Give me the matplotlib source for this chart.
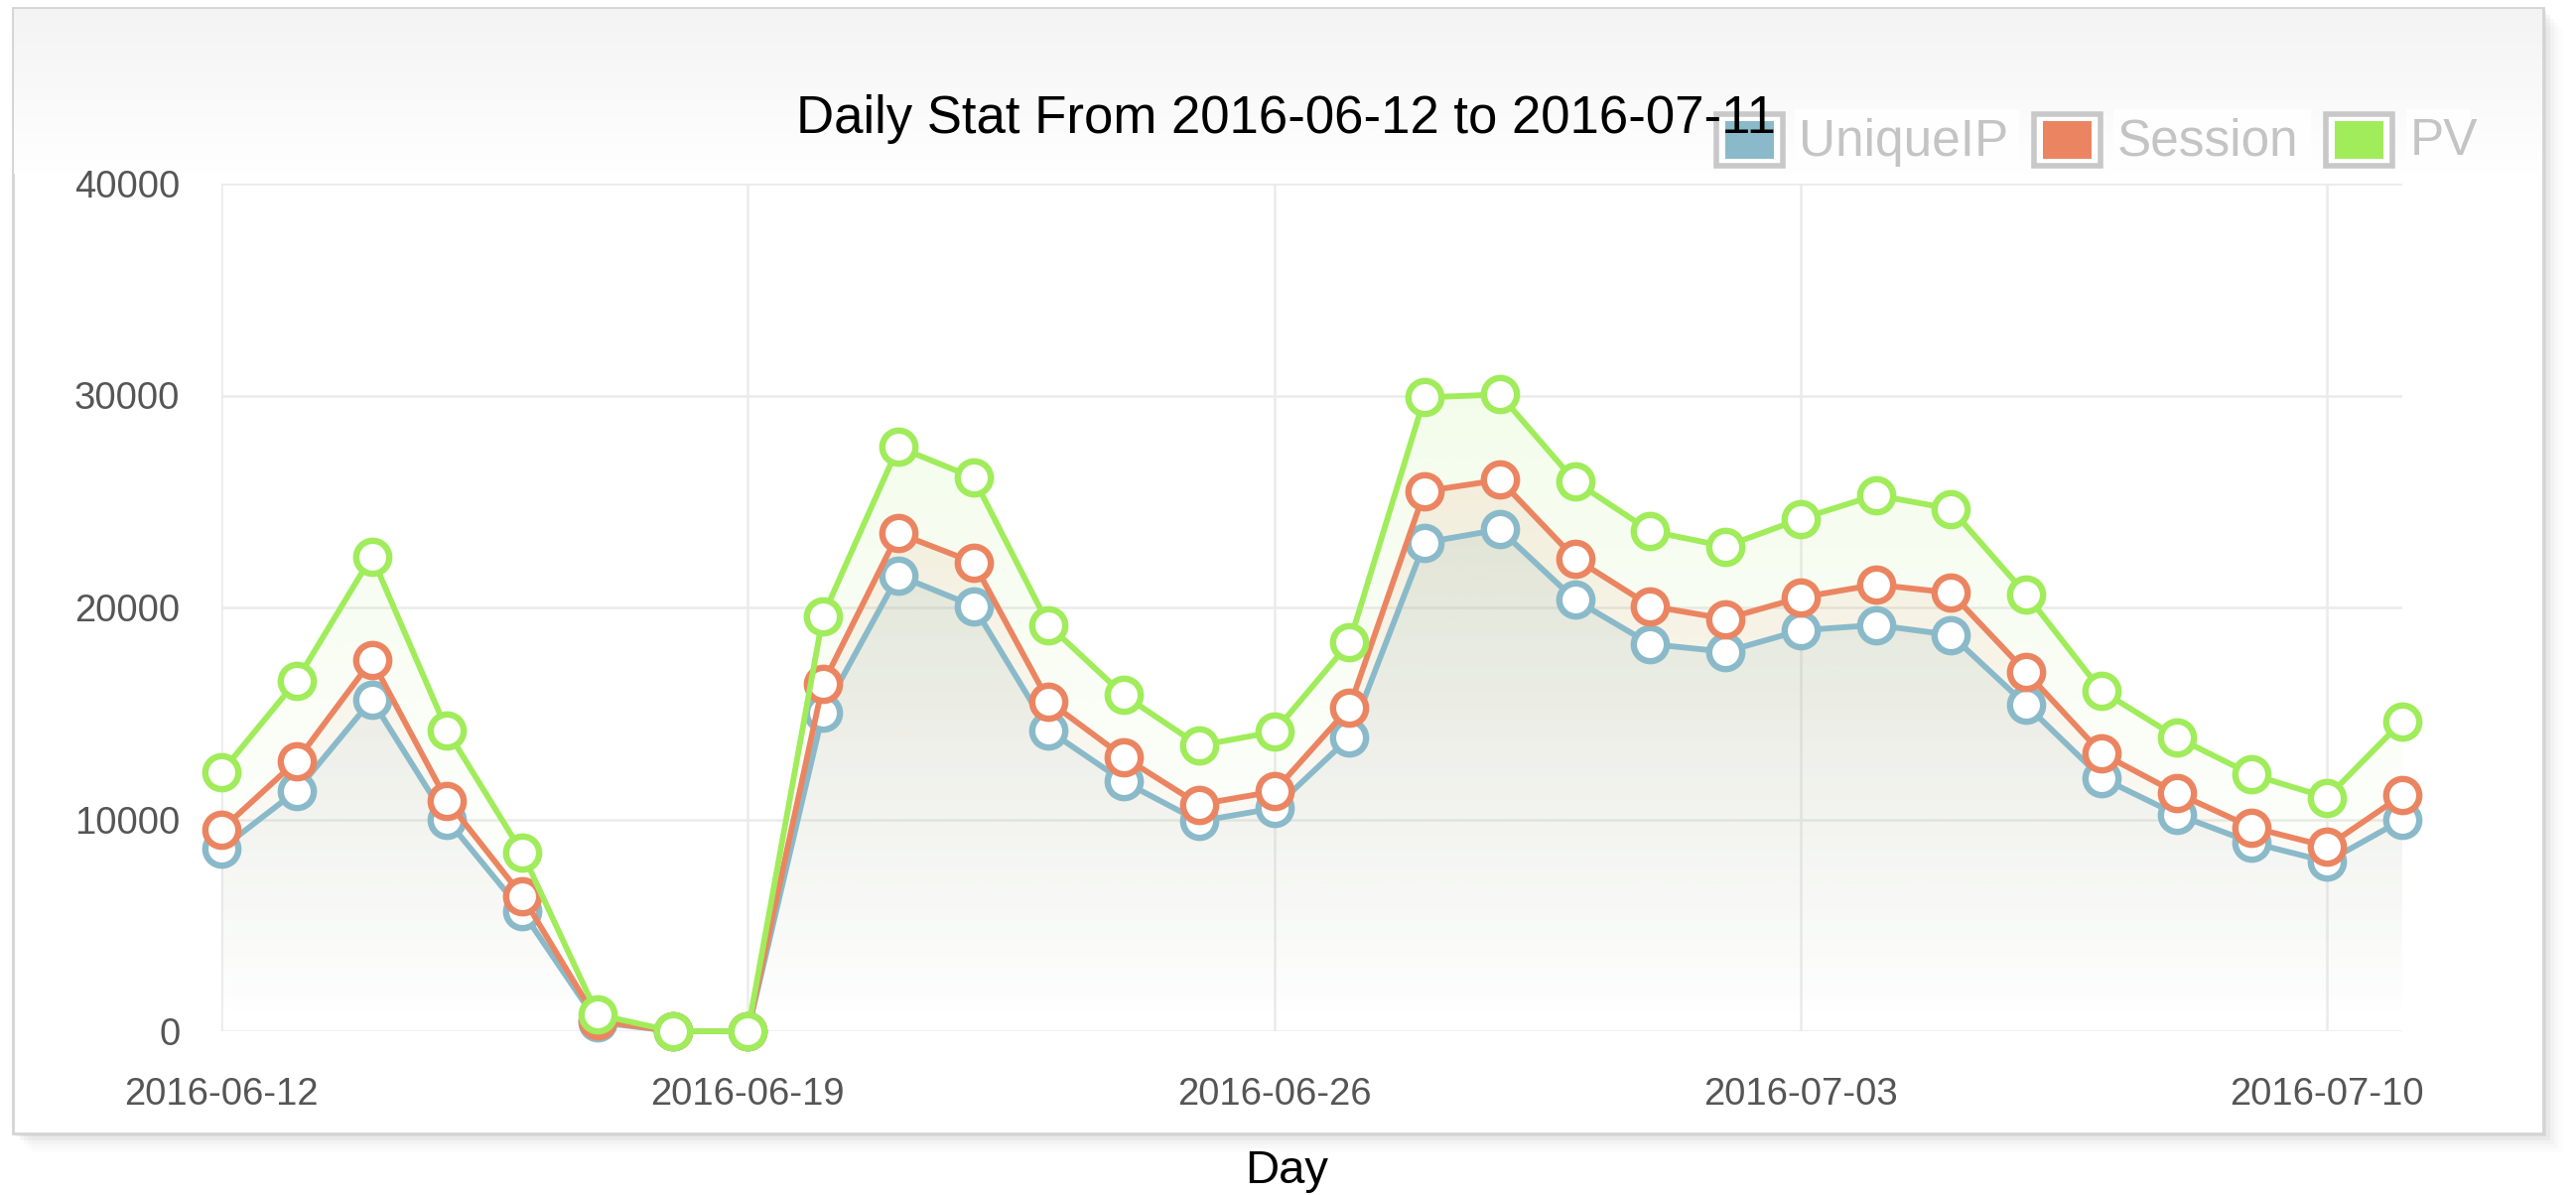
import numpy as np
import matplotlib
matplotlib.use("Agg")
import matplotlib.pyplot as plt
import matplotlib.dates as mdates
from matplotlib.patches import Rectangle
from matplotlib.path import Path
from matplotlib.patches import PathPatch

# ---------------- data ----------------
days = np.arange(np.datetime64("2016-06-12"), np.datetime64("2016-07-12"))
unique_ip = [8610, 11350, 15640, 9980, 5660, 430, 0, 0, 15030, 21510,
             20070, 14200, 11780, 9910, 10520, 13870, 23060, 23680, 20360, 18270,
             17910, 18920, 19170, 18700, 15390, 11960, 10230, 8900, 8000, 9980]
session = [9510, 12760, 17510, 10880, 6380, 500, 0, 0, 16400, 23500,
           22130, 15570, 12940, 10700, 11320, 15280, 25480, 26020, 22310, 20070,
           19460, 20470, 21080, 20690, 16940, 13120, 11240, 9620, 8720, 11140]
pv = [12220, 16540, 22410, 14200, 8430, 790, 0, 0, 19600, 27570,
      26130, 19170, 15860, 13480, 14130, 18340, 29910, 30050, 25950, 23600,
      22880, 24180, 25300, 24650, 20610, 16070, 13870, 12110, 11030, 14630]
series_names = ["UniqueIP", "Session", "PV"]
series_colors = ["#8abac9", "#eb8561", "#a0ec5b"]
yticks = [0, 10000, 20000, 30000, 40000]
xtick_dates = ["2016-06-12", "2016-06-19", "2016-06-26", "2016-07-03", "2016-07-10"]
title = "Daily Stat From 2016-06-12 to 2016-07-11"
xlabel = "Day"

W, H = 2595, 1204
plt.rcParams["font.family"] = ["Liberation Sans", "DejaVu Sans"]
fig = plt.figure(figsize=(W / 100, H / 100), dpi=100)
fig.patch.set_facecolor("white")

# ---------------- background panel ----------------
bg = fig.add_axes([0, 0, 1, 1], zorder=-5)
bg.set_xlim(0, W)
bg.set_ylim(H, 0)
bg.axis("off")
px0, py0, px1, py1 = 13, 8, 2562, 1142
for i, a in enumerate([0.05, 0.035, 0.025, 0.015, 0.01]):
    off = 3 + i * 4
    bg.add_patch(Rectangle((px0 + off, py0 + off), px1 - px0, py1 - py0,
                           facecolor="black", alpha=a, edgecolor="none", zorder=0))
bg.add_patch(Rectangle((px0, py0), px1 - px0, py1 - py0, facecolor="white",
                       edgecolor="#d4d4d4", linewidth=2, zorder=1))
grad = np.linspace(0, 1, 200)[:, None]
top_c = np.array([0.955, 0.955, 0.955])
cols = top_c + (1 - top_c) * grad[..., None] * np.ones((1, 1, 3))
bg.imshow(cols, extent=(px0 + 1, px1 - 1, 175, py0 + 1), aspect="auto", zorder=2,
          interpolation="bilinear")

# ---------------- main axes ----------------
ax = fig.add_axes([223 / W, 1 - 1039 / H, (2420 - 223) / W, (1039 - 185) / H])
ax.set_facecolor("none")
x = mdates.date2num(days.astype("datetime64[D]").astype(object))

# gradient fills under each series
ymax_g = 30000
alphas = [0.26, 0.16, 0.12]
for vals, c, a in zip([unique_ip, session, pv], series_colors, alphas):
    rgb = np.array(matplotlib.colors.to_rgb(c))
    n = 256
    img = np.zeros((n, 1, 4))
    img[..., :3] = rgb
    frac = np.linspace(1, 0, n)
    img[:, 0, 3] = a * np.clip(frac, 0, 1) ** 1.2
    verts = [(x[0], 0)] + list(zip(x, vals)) + [(x[-1], 0)]
    poly = PathPatch(Path(verts), facecolor="none", edgecolor="none")
    ax.add_patch(poly)
    im = ax.imshow(img, extent=(x[0], x[-1], 0, ymax_g), aspect="auto",
                   interpolation="bilinear", zorder=1)
    im.set_clip_path(poly)
ax.set_xlim(x[0], x[-1])
ax.set_ylim(0, 40000)

for vals, c, name in zip([unique_ip, session, pv], series_colors, series_names):
    ax.plot(x, vals, color=c, linewidth=4.2, marker="o", markersize=24,
            markerfacecolor="white", markeredgecolor=c, markeredgewidth=4.6,
            zorder=3, clip_on=False, label=name)

ax.set_yticks(yticks)
ax.set_yticklabels([str(v) for v in yticks])
xt = mdates.date2num([np.datetime64(d).astype(object) for d in xtick_dates])
ax.set_xticks(xt)
ax.set_xticklabels(xtick_dates)
ax.grid(True, color="#ebebeb", linewidth=1.8, zorder=0)
ax.set_axisbelow(True)
for s in ax.spines.values():
    s.set_visible(False)
ax.tick_params(axis="y", length=0, pad=30, labelsize=27.5, labelcolor="#555555")
ax.tick_params(axis="x", length=0, pad=33, labelsize=27.5, labelcolor="#555555")

fig.text(1296 / W, 1 - 1180 / H, xlabel, ha="center", va="center", fontsize=34,
         color="black")

fig.text(1296 / W, 1 - 120 / H, title, ha="center", va="center", fontsize=38,
         color="black")

leg_items = [(1729, 1812), (2049, 2133), (2343, 2428)]
for (sx, tx), c, name in zip(leg_items, series_colors, series_names):
    bg.add_patch(Rectangle((sx, 115), 67, 52, facecolor="white", edgecolor="#c8c8c8",
                           linewidth=4, zorder=10))
    bg.add_patch(Rectangle((sx + 9, 122), 49, 38, facecolor=c, edgecolor="none", zorder=11))
    bg.add_patch(Rectangle((tx - 4, 110), len(name) * 27 + 10, 62, facecolor="white",
                           edgecolor="none", alpha=0.85, zorder=10))
    bg.text(tx, 143, name, ha="left", va="center", fontsize=37, color="#c4c4c4", zorder=12)

fig.savefig("out.png", dpi=100)
